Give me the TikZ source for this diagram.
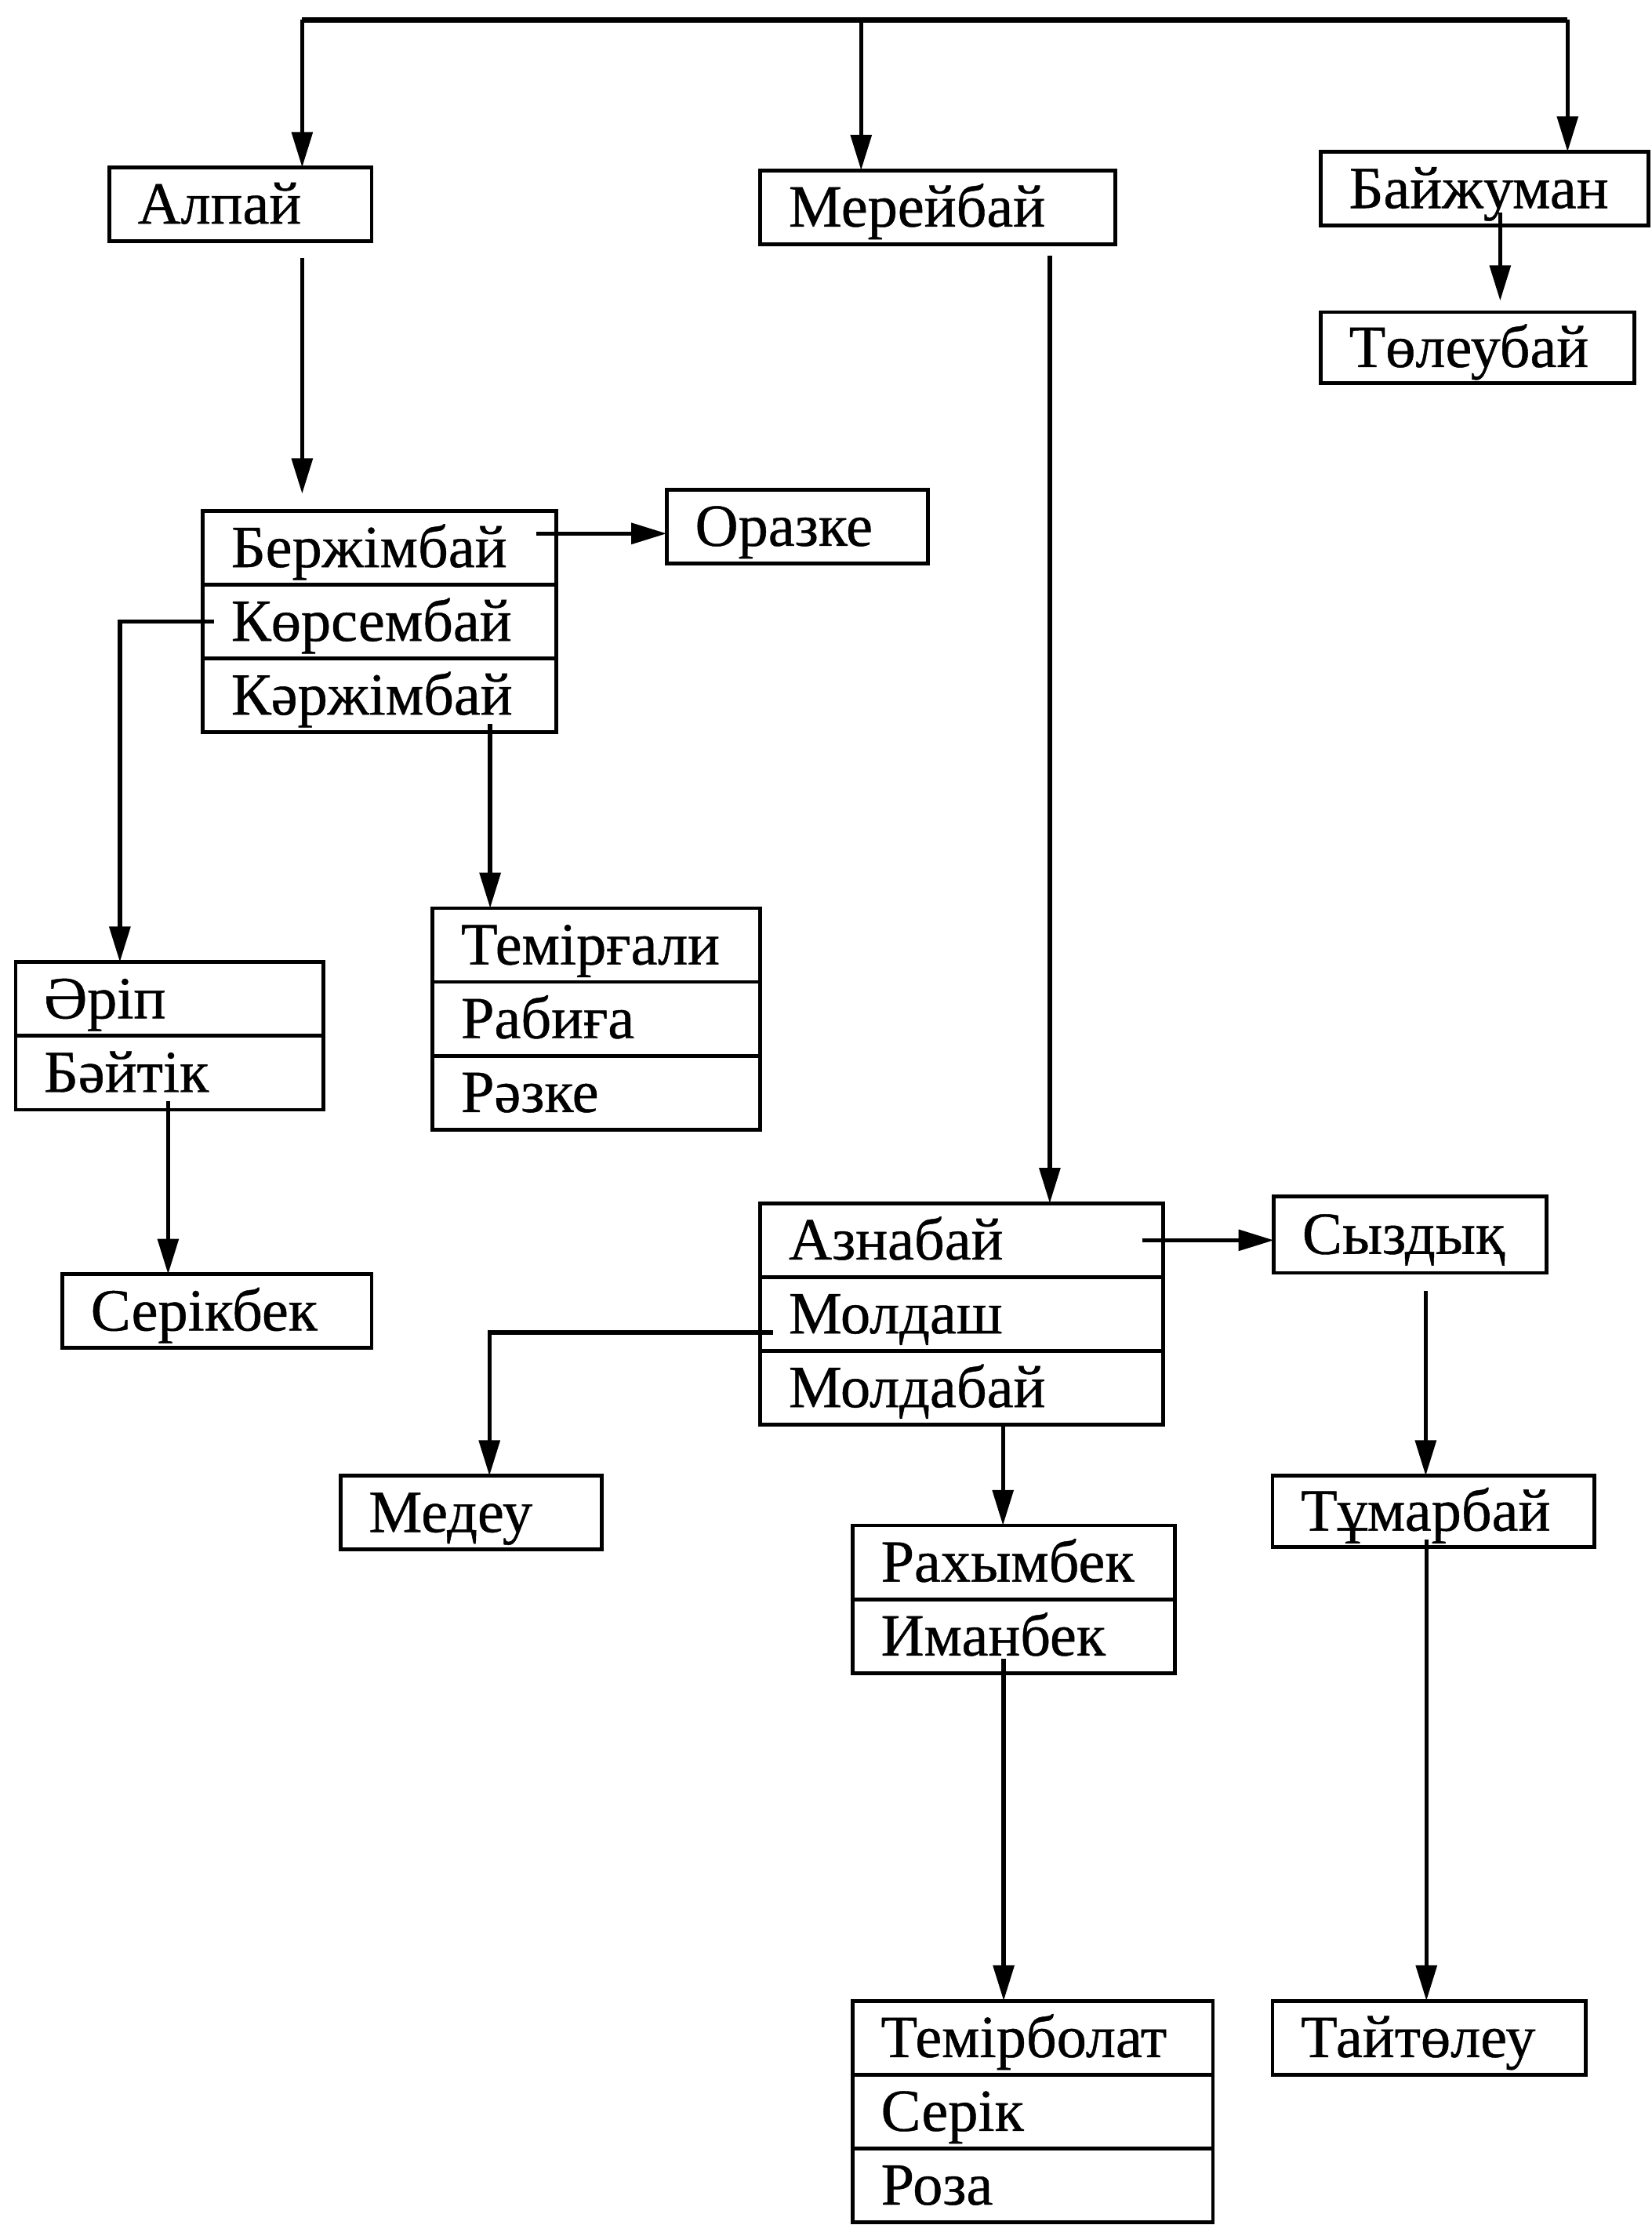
\documentclass[tikz,border=0pt]{standalone}
\usepackage{fontspec}
\setmainfont{Liberation Serif}[FakeBold=0.6]
\usetikzlibrary{positioning,arrows.meta,calc}

\begin{document}
\begin{tikzpicture}[
  x=0.2mm, y=-0.2mm,
  namebox/.style={rectangle, draw, line width=1.5pt, text width=#1, align=left, inner xsep=4mm, inner ysep=0pt, outer sep=0pt, minimum height=10.4mm, text height=18.5pt, text depth=3pt, anchor=north west, font=\fontsize{24}{28}\selectfont},
  arrow/.style={-{Triangle[length=5mm, width=2.9mm]}, line width=1.7pt},
  link/.style={line width=2.4pt},
]
\useasboundingbox (0,0) rectangle (1164,1568);

% === Top level ===
\coordinate (topL) at (213,14);
\coordinate (topM) at (607,14);
\coordinate (topR) at (1105,14);

\node[namebox=29mm] (alpai) at (77,118) {Алпай};
\node[namebox=42mm] (mereibai) at (536,120) {Мерейбай};
\node[namebox=38.2mm] (baizhuman) at (931,107) {Байжуман};
\node[namebox=36.2mm, minimum height=10mm] (toleubai) at (931,220) {Төлеубай};

% === Alpai branch ===
\node[namebox=41.8mm] (bergim) at (143,360) {Бержімбай};
\node[namebox=41.8mm, below=0pt of bergim] (korsem) {Көрсембай};
\node[namebox=41.8mm, below=0pt of korsem] (karzhim) {Кәржімбай};
\node[namebox=28.8mm] (orazke) at (470,345) {Оразке};

\node[namebox=35.4mm] (erip) at (11,678) {Әріп};
\node[namebox=35.4mm, below=0pt of erip] (baitik) {Бәйтік};
\node[namebox=35.6mm] (serikbek) at (44,898) {Серікбек};

\node[namebox=38.2mm] (temirgali) at (305,640) {Темірғали};
\node[namebox=38.2mm, below=0pt of temirgali] (rabiga) {Рабиға};
\node[namebox=38.2mm, below=0pt of rabiga] (razke) {Рәзке};

% === Mereibai branch ===
\node[namebox=48.8mm] (aznabai) at (536,848) {Азнабай};
\node[namebox=48.8mm, below=0pt of aznabai] (moldash) {Молдаш};
\node[namebox=48.8mm, below=0pt of moldash] (moldabai) {Молдабай};
\node[namebox=30.4mm, minimum height=10.8mm] (syzdyq) at (898,843) {Сыздық};
\node[namebox=37.4mm, minimum height=10mm] (tumarbai) at (897,1040) {Тұмарбай};
\node[namebox=36.2mm] (taitoleu) at (897,1410) {Тайтөлеу};
\node[namebox=28.8mm] (medeu) at (240,1040) {Медеу};

\node[namebox=37.4mm] (rakhymbek) at (601,1075) {Рахымбек};
\node[namebox=37.4mm, below=0pt of rakhymbek] (imanbek) {Иманбек};

\node[namebox=42.8mm] (temirbolat) at (601,1410) {Темірболат};
\node[namebox=42.8mm, below=0pt of temirbolat] (serik) {Серік};
\node[namebox=42.8mm, below=0pt of serik] (roza) {Роза};

% === Connectors ===
\draw[link] (topL) -- (topR);
\draw[arrow] (topL) -- (topL |- alpai.north);
\draw[arrow] (topM) -- (topM |- mereibai.north);
\draw[arrow] (topR) -- (topR |- baizhuman.north);

\coordinate (b1) at ($(baizhuman.south)+(11,-9)$);
\draw[arrow] (b1) -- ($(b1 |- toleubai.north)+(0,-8)$);

\draw[arrow] ($(alpai.south -| topL)+(0,12)$) -- ($(bergim.north -| topL)+(0,-12)$);
\draw[arrow] ($(bergim.east |- orazke.west)+(-14,5)$) -- ($(orazke.west)+(0,5)$);
\draw[arrow] ([xshift=1.6mm]korsem.west) -| ($(erip.north)+(-35,0)$);

\coordinate (bt1) at ($(baitik.south)+(-1,-6)$);
\draw[arrow] (bt1) -- (bt1 |- serikbek.north);

\coordinate (k1) at ($(karzhim.south)+(78,-6)$);
\draw[arrow] (k1) -- (k1 |- temirgali.north);

\coordinate (m1) at ($(mereibai.south)+(79,8)$);
\draw[arrow] (m1) -- (m1 |- aznabai.north);

\draw[arrow] ([xshift=-3mm]aznabai.east) -- (aznabai.east -| syzdyq.west);
\draw[arrow] ([xshift=1.8mm,yshift=-2.6mm]moldash.west) -| ($(medeu.north)+(13,0)$);

\coordinate (md1) at ($(moldabai.south)+(29,0)$);
\draw[arrow] (md1) -- (md1 |- rakhymbek.north);

\coordinate (im1) at ($(imanbek.south)+(-7,-10)$);
\draw[arrow] (im1) -- (im1 |- temirbolat.north);

\coordinate (s1) at ($(syzdyq.south)+(11,13)$);
\draw[arrow] (s1) -- (s1 |- tumarbai.north);

\coordinate (t1) at ($(tumarbai.south)+(-5,-5)$);
\draw[arrow] (t1) -- (t1 |- taitoleu.north);

\end{tikzpicture}
\end{document}
